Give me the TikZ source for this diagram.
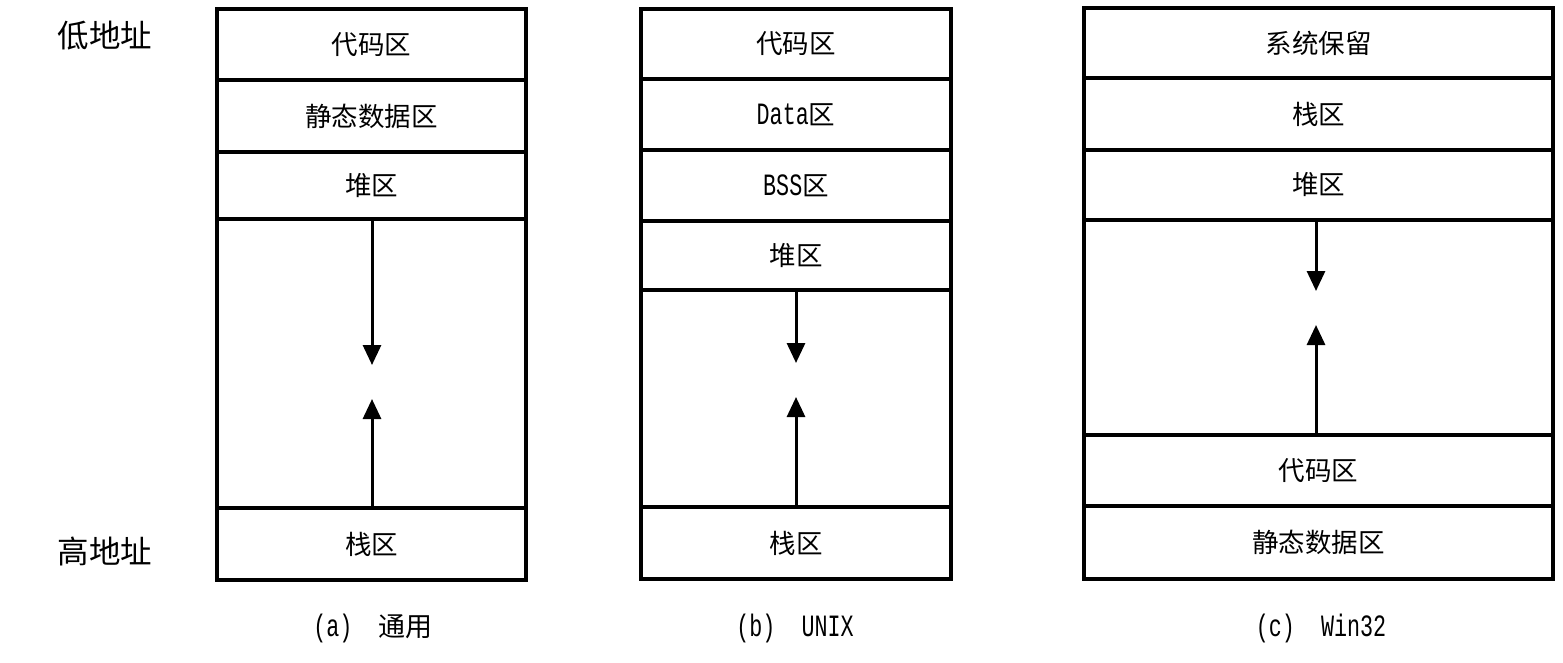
\documentclass[tikz,border=0pt]{standalone}
\usepackage{fontspec}
\setmainfont{Liberation Mono}
\newfontfamily\cjk{Noto Sans CJK SC}
\newfontfamily\lat[FakeStretch=0.7]{Liberation Mono}
\usetikzlibrary{arrows.meta}
\newcommand{\Lt}[1]{{\lat\fontsize{31}{34}\selectfont #1}}
\begin{document}
\begin{tikzpicture}[x=1pt,y=-1pt,
  cell/.style={draw,line width=4pt,inner sep=0pt,font=\cjk\fontsize{26.5}{30}\selectfont},
  growarrow/.style={line width=3pt,-{Triangle[length=20pt,width=18pt]}},
  sidelabel/.style={inner sep=0pt,font=\cjk\fontsize{31.5}{34}\selectfont},
  caption/.style={inner sep=0pt,font=\cjk\fontsize{27}{30}\selectfont}]
\useasboundingbox[fill=white] (0,0) rectangle (1563,662);
% panel a
\begin{scope}[every node/.append style={minimum width=309pt}]
\node[cell,minimum height=71pt] (a1) at (371.5,44.5) {代码区};
\node[cell,minimum height=72pt] (a2) at (371.5,116) {静态数据区};
\node[cell,minimum height=67pt] (a3) at (371.5,185.5) {堆区};
\node[cell,minimum height=289pt] (a4) at (371.5,363.5) {};
\node[cell,minimum height=72pt] (a5) at (371.5,544) {栈区};
\end{scope}
\coordinate (ad) at (372,365);
\coordinate (au) at (372,399);
\draw[growarrow] (a3.south -| ad) -- (ad);
\draw[growarrow] (a5.north -| au) -- (au);
% panel b
\begin{scope}[every node/.append style={minimum width=310pt}]
\node[cell,minimum height=70pt] (b1) at (796,44) {代码区};
\node[cell,minimum height=71pt] (b2) at (796,114.5) {\Lt{Data}区};
\node[cell,minimum height=71pt] (b3) at (796,185.5) {\Lt{BSS}区};
\node[cell,minimum height=69pt] (b4) at (796,255.5) {堆区};
\node[cell,minimum height=217pt] (b5) at (796,398.5) {};
\node[cell,minimum height=72pt] (b6) at (796,543) {栈区};
\end{scope}
\coordinate (bd) at (796,363);
\coordinate (bu) at (796,397);
\draw[growarrow] (b4.south -| bd) -- (bd);
\draw[growarrow] (b6.north -| bu) -- (bu);
% panel c
\begin{scope}[every node/.append style={minimum width=469pt}]
\node[cell,minimum height=70pt] (c1) at (1318.5,43) {系统保留};
\node[cell,minimum height=72pt] (c2) at (1318.5,114) {栈区};
\node[cell,minimum height=70pt] (c3) at (1318.5,185) {堆区};
\node[cell,minimum height=215pt] (c4) at (1318.5,327.5) {};
\node[cell,minimum height=71pt] (c5) at (1318.5,470.5) {代码区};
\node[cell,minimum height=73pt] (c6) at (1318.5,542.5) {静态数据区};
\end{scope}
\coordinate (cd) at (1316,291);
\coordinate (cu) at (1316,325);
\draw[growarrow] (c3.south -| cd) -- (cd);
\draw[growarrow] (c5.north -| cu) -- (cu);
% side labels
\node[sidelabel] (lo) at (105,36) {低地址};
\node[sidelabel] (hi) at (105,551) {高地址};
% captions
\node[caption] (capa) at (373,628) {\Lt{(a)~~}通用};
\node[caption] (capb) at (795,628) {\Lt{(b)~~UNIX}};
\node[caption] (capc) at (1321,628) {\Lt{(c)~~Win32}};
\end{tikzpicture}
\end{document}
